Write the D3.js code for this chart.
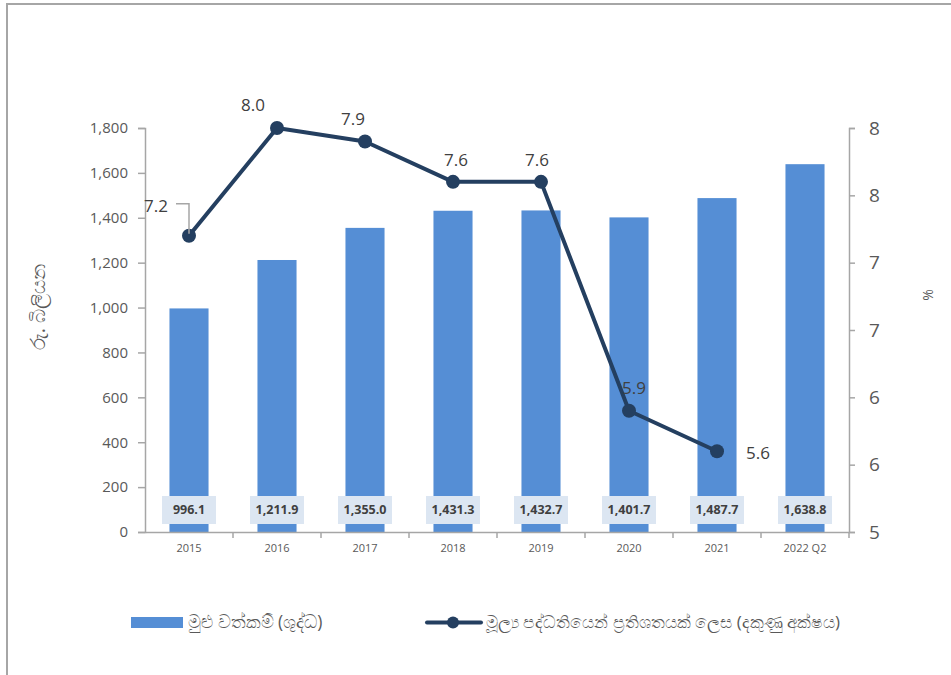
<!DOCTYPE html>
<html>
<head>
<meta charset="utf-8">
<script src="https://cdn.jsdelivr.net/npm/d3@7/dist/d3.min.js"></script>
<style>
  html, body { margin: 0; padding: 0; background: #fff; }
  svg { display: block; }
  text { font-family: "Open Sans", "Noto Sans", sans-serif; }
</style>
</head>
<body>
<svg id="chart" width="951" height="675"></svg>
<script>
// ---- data ----
const categories = ["2015", "2016", "2017", "2018", "2019", "2020", "2021", "2022 Q2"];
const totalAssets = [996.1, 1211.9, 1355.0, 1431.3, 1432.7, 1401.7, 1487.7, 1638.8];
const assetLabels = ["996.1", "1,211.9", "1,355.0", "1,431.3", "1,432.7", "1,401.7", "1,487.7", "1,638.8"];
const pctOfCapital = [7.2, 8.0, 7.9, 7.6, 7.6, 5.9, 5.6, null];
const pctLabels = ["7.2", "8.0", "7.9", "7.6", "7.6", "5.9", "5.6", ""];
const leftTicks = [0, 200, 400, 600, 800, 1000, 1200, 1400, 1600, 1800];
const rightTicks = [5, 5.5, 6, 6.5, 7, 7.5, 8];
const leftTitle = "රු. බිලියන";
const rightTitle = "%";
const legendBar = "මුළු වත්කම් (ශුද්ධ)";
const legendLine = "මූල්‍ය පද්ධතියෙන් ප්‍රතිශතයක් ලෙස (දකුණු අක්ෂය)";

// label placement (dx, dy from the point, in px)
const pctLabelOffsets = [[-33, -30], [-24, -23], [-12, -22], [3, -22], [-4, -22], [5, -23], [41, 2], [0, 0]];

(function () {
// ---- layout ----
const svg = d3.select("#chart");
const pl = 145, pr = 849, pt = 128, pb = 532;
const axisColor = "#a6a6a6";
const textColor = "#595959";

// frame
svg.append("rect").attr("x", 7).attr("y", 4).attr("width", 980).attr("height", 700)
  .attr("fill", "none").attr("stroke", axisColor).attr("stroke-width", 2);

const x = d3.scaleBand().domain(categories).range([pl, pr]).paddingInner(0.556).paddingOuter(0.278);
const yL = d3.scaleLinear().domain([0, 1800]).range([pb, pt]);
const yR = d3.scaleLinear().domain([5, 8]).range([pb, pt]);
const cx = c => x(c) + x.bandwidth() / 2;

// bars
svg.append("g").selectAll("rect").data(categories).join("rect")
  .attr("x", d => x(d)).attr("width", x.bandwidth())
  .attr("y", (d, i) => yL(totalAssets[i]))
  .attr("height", (d, i) => pb - yL(totalAssets[i]))
  .attr("fill", "#558ed5");

// left axis
const gL = svg.append("g").attr("transform", `translate(${pl},0)`)
  .call(d3.axisLeft(yL).tickValues(leftTicks).tickFormat(d3.format(",")).tickSize(7).tickPadding(10));
gL.select(".domain").attr("stroke", axisColor).attr("stroke-width", 1.5);
gL.selectAll(".tick line").attr("stroke", axisColor).attr("stroke-width", 1.5);
gL.selectAll(".tick text").attr("fill", textColor).style("font-size", "15px").style("font-family", "'Open Sans', sans-serif");

// right axis
const gR = svg.append("g").attr("transform", `translate(${pr},0)`)
  .call(d3.axisRight(yR).tickValues(rightTicks).tickFormat(d3.format(".0f")).tickSize(6).tickPadding(14));
gR.select(".domain").attr("stroke", axisColor).attr("stroke-width", 1.5);
gR.selectAll(".tick line").attr("stroke", axisColor).attr("stroke-width", 1.5);
gR.selectAll(".tick text").attr("fill", textColor).style("font-size", "19px").style("font-family", "'Open Sans', sans-serif");

// bottom axis
const gB = svg.append("g").attr("transform", `translate(0,${pb})`)
  .call(d3.axisBottom(x).tickSize(0).tickPadding(12));
gB.select(".domain").attr("stroke", axisColor).attr("stroke-width", 1.5);
gB.selectAll(".tick text").attr("fill", textColor).style("font-size", "11px").style("font-family", "'Open Sans', sans-serif");
// separators between categories
const sepPositions = categories.map(c => x(c) - x.step() * x.paddingInner() / 2).slice(1).concat([pr]);
svg.append("g").selectAll("line").data(sepPositions).join("line")
  .attr("x1", d => d).attr("x2", d => d).attr("y1", pb).attr("y2", pb + 6)
  .attr("stroke", axisColor).attr("stroke-width", 1.5);

// bar value labels
const lab = svg.append("g").selectAll("g").data(categories).join("g")
  .attr("transform", d => `translate(${cx(d)},510)`);
lab.append("rect").attr("x", -27).attr("y", -14).attr("width", 54).attr("height", 28).attr("fill", "#dce6f2");
lab.append("text").attr("text-anchor", "middle").attr("dy", "0.35em")
  .attr("fill", "#404040").style("font-size", "12.5px").style("font-weight", "bold")
  .text((d, i) => assetLabels[i]);

// line
const pts = categories.map((c, i) => ({ c, v: pctOfCapital[i], i })).filter(p => p.v != null);
const line = d3.line().x(p => cx(p.c)).y(p => yR(p.v));
const lineColor = "#243f60";
svg.append("path").datum(pts).attr("d", line).attr("fill", "none")
  .attr("stroke", lineColor).attr("stroke-width", 4).attr("stroke-linejoin", "round");
svg.append("g").selectAll("circle").data(pts).join("circle")
  .attr("cx", p => cx(p.c)).attr("cy", p => yR(p.v)).attr("r", 7).attr("fill", lineColor);

// leader line for first label
const p0 = pts[0];
svg.append("path")
  .attr("d", `M${cx(p0.c) - 13},${yR(p0.v) - 32}H${cx(p0.c)}V${yR(p0.v) - 2}`)
  .attr("fill", "none").attr("stroke", axisColor).attr("stroke-width", 1.5);

// point labels
svg.append("g").selectAll("text").data(pts).join("text")
  .attr("x", p => cx(p.c) + pctLabelOffsets[p.i][0])
  .attr("y", p => yR(p.v) + pctLabelOffsets[p.i][1])
  .attr("text-anchor", "middle").attr("dy", "0.35em")
  .attr("fill", "#404040").style("font-size", "17px")
  .text(p => pctLabels[p.i]);

// axis titles
svg.append("text").attr("transform", "translate(38,307) rotate(-90)")
  .attr("text-anchor", "middle").attr("dy", "0.35em")
  .attr("fill", textColor).style("font-size", "20px").text(leftTitle);
svg.append("text").attr("transform", "translate(928,295) rotate(-90)")
  .attr("text-anchor", "middle").attr("dy", "0.35em")
  .attr("fill", textColor).style("font-size", "14px").text(rightTitle);

// legend
const lg = svg.append("g");
lg.append("rect").attr("x", 131).attr("y", 617).attr("width", 52).attr("height", 11).attr("fill", "#558ed5");
lg.append("text").attr("x", 188).attr("y", 622).attr("dy", "0.35em")
  .attr("fill", textColor).style("font-size", "17.5px").text(legendBar);
lg.append("line").attr("x1", 427).attr("x2", 481).attr("y1", 622.5).attr("y2", 622.5)
  .attr("stroke", lineColor).attr("stroke-width", 4).attr("stroke-linecap", "round");
lg.append("circle").attr("cx", 453).attr("cy", 622.5).attr("r", 6).attr("fill", lineColor);
lg.append("text").attr("x", 486).attr("y", 622).attr("dy", "0.35em")
  .attr("fill", textColor).style("font-size", "17px").text(legendLine);
})();
</script>
</body>
</html>
